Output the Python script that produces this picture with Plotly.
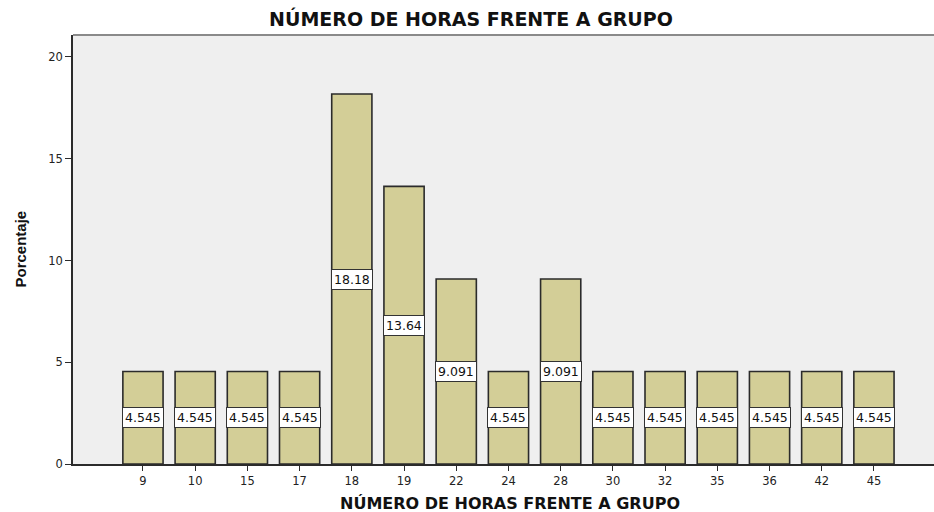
import plotly.graph_objects as go

categories = ["9", "10", "15", "17", "18", "19", "22", "24", "28", "30", "32", "35", "36", "42", "45"]
percentages = [4.545, 4.545, 4.545, 4.545, 18.18, 13.64, 9.091, 4.545, 9.091, 4.545, 4.545, 4.545, 4.545, 4.545, 4.545]
labels = ["4.545", "4.545", "4.545", "4.545", "18.18", "13.64", "9.091", "4.545", "9.091",
          "4.545", "4.545", "4.545", "4.545", "4.545", "4.545"]
y_ticks = [0, 5, 10, 15, 20]

title_text = "NÚMERO DE HORAS FRENTE A GRUPO"
x_title = "NÚMERO DE HORAS FRENTE A GRUPO"
y_title = "Porcentaje"

W, H = 934, 512
L, R, T, B = 73, 0, 35, 48
WIDE = "DejaVu Sans, Verdana, sans-serif"

fig = go.Figure()
fig.add_trace(go.Bar(
    x=categories, y=percentages, width=0.77,
    marker=dict(color="#D3CE97", line=dict(color="#2b2b2b", width=1.6)),
    hoverinfo="x+y",
))

annotations = []
for i, (v, lab) in enumerate(zip(percentages, labels)):
    annotations.append(dict(
        x=i, y=v / 2, xref="x", yref="y", text=lab, showarrow=False,
        font=dict(family=WIDE, size=12.5, color="#111"),
        bgcolor="white", bordercolor="#333", borderwidth=1, borderpad=2,
    ))

annotations.append(dict(
    x=(510 - L) / (W - L - R), y=0, xref="paper", yref="paper", yshift=-39,
    text=f"<b>{x_title}</b>", showarrow=False, xanchor="center", yanchor="middle",
    font=dict(family=WIDE, size=16, color="#111"),
))
annotations.append(dict(
    x=(20 - L) / (W - L - R), y=0.5, xref="paper", yref="paper", textangle=-90,
    text=f"<b>{y_title}</b>", showarrow=False, xanchor="center", yanchor="middle",
    font=dict(family="Liberation Sans, Arial, sans-serif", size=15, color="#111"),
))

fig.update_layout(
    width=W, height=H,
    margin=dict(l=L, r=R, t=T, b=B, autoexpand=False),
    paper_bgcolor="white", plot_bgcolor="#EFEFEF",
    showlegend=False,
    title=dict(text=f"<b>{title_text}</b>", x=471 / W, xref="container", xanchor="center",
               y=1 - 19 / H, yref="container", yanchor="middle",
               font=dict(family=WIDE, size=19, color="#111")),
    annotations=annotations,
    shapes=[dict(type="line", xref="paper", yref="paper", x0=0, x1=1, y0=1, y1=1,
                 line=dict(color="#8a8a8a", width=2))],
    xaxis=dict(
        type="category", range=[-1.34, 15.15], automargin=False,
        showgrid=False, zeroline=False,
        showline=True, linecolor="#2b2b2b", linewidth=1.5,
        ticks="outside", ticklen=5, tickwidth=1.2, tickcolor="#2b2b2b",
        tickfont=dict(family=WIDE, size=11.5, color="#222"),
    ),
    yaxis=dict(
        range=[0, 21.08], tickvals=y_ticks, automargin=False,
        showgrid=False, zeroline=False,
        showline=True, linecolor="#2b2b2b", linewidth=1.5,
        ticks="outside", ticklen=6, tickwidth=1.2, tickcolor="#2b2b2b",
        tickfont=dict(family=WIDE, size=11.5, color="#222"),
    ),
)

fig.write_html(
    "out.html",
    config={"displayModeBar": False},
    post_script="document.body.style.margin='0';document.body.style.overflow='hidden';",
)
